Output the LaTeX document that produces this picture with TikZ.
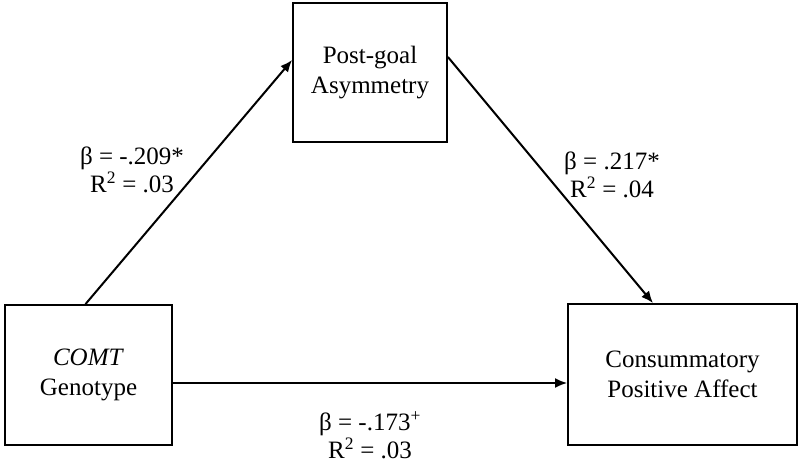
\documentclass[tikz,border=0pt]{standalone}
\usepackage{fontspec}
\setmainfont{Liberation Serif}
\usepackage{tikz}
\usetikzlibrary{arrows.meta}

\tikzset{varbox/.style={draw, line width=1.8pt, align=center, inner sep=0pt, font=\fontsize{25}{30}\selectfont}}
\tikzset{coef/.style={align=center, inner sep=0pt, font=\fontsize{25}{28}\selectfont}}
\tikzset{path arrow/.style={line width=2pt, -{Latex[length=12pt, width=10pt]}}}

\begin{document}
\begin{tikzpicture}[x=1pt, y=-1pt]
\useasboundingbox (0, 0) rectangle (800, 465);
\node[varbox, minimum width=154pt, minimum height=139pt] (goal) at (370, 72.5) {Post-goal\\Asymmetry};
\node[varbox, minimum width=167pt, minimum height=140pt] (comt) at (88.5, 375) {\textit{COMT}\\Genotype};
\node[varbox, minimum width=229pt, minimum height=141pt] (affect) at (682.5, 374.5) {Consummatory\\Positive Affect};
\draw[path arrow] ([xshift=-3pt]comt.north) -- ([yshift=12.5pt]goal.west);
\draw[path arrow] ([yshift=15.5pt]goal.east) -- ([xshift=-29.5pt]affect.north);
\draw[path arrow] ([yshift=-8pt]comt.east) -- ([yshift=-8pt]comt.east -| affect.west);
\node[coef] (a path) at (132, 170) {β = -.209*\\R\textsuperscript{2} = .03};
\node[coef] (b path) at (612, 175) {β = .217*\\R\textsuperscript{2} = .04};
\node[coef] (c path) at (370, 435) {β = -.173\textsuperscript{+}\\R\textsuperscript{2} = .03};
\end{tikzpicture}
\end{document}
